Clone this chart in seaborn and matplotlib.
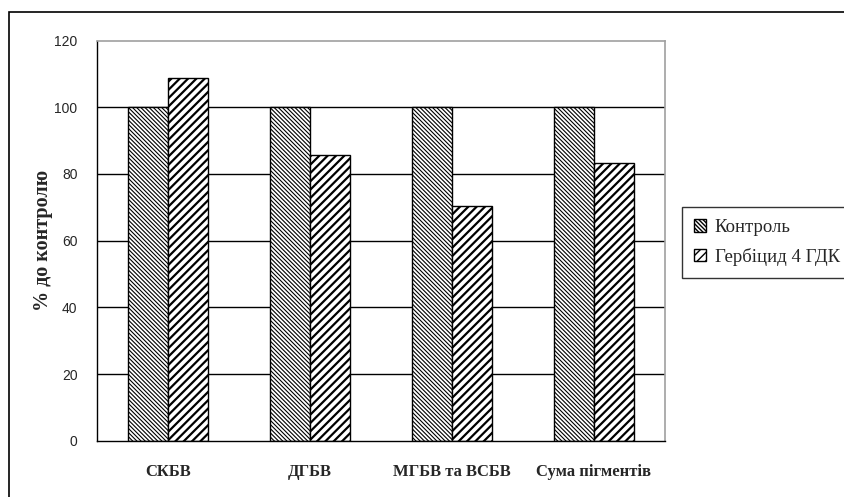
import matplotlib
matplotlib.use("Agg")
import matplotlib.pyplot as plt
import matplotlib.patches as mpatches
import seaborn as sns
import pandas as pd

categories = ["СКБВ", "ДГБВ", "МГБВ та ВСБВ", "Сума пігментів"]
series_names = ["Контроль", "Гербіцид 4 ГДК"]
control = [100, 100, 100, 100]
herbicide = [108.8, 85.7, 70.4, 83.4]
y_ticks = [0, 20, 40, 60, 80, 100, 120]
y_label = "% до контролю"

df = pd.DataFrame({
    "cat": categories * 2,
    "series": [series_names[0]] * len(categories) + [series_names[1]] * len(categories),
    "value": control + herbicide,
})

sns.set_style("white")
plt.rcParams["font.family"] = ["Liberation Serif", "DejaVu Serif"]

W, H = 844, 497
fig = plt.figure(figsize=(W / 100, H / 100), dpi=100)
ax = fig.add_axes([97 / W, 1 - 440.7 / H, (665 - 97) / W, (440.7 - 40.5) / H])

sns.barplot(data=df, x="cat", y="value", hue="series", order=categories,
            hue_order=series_names, palette=["white", "white"], width=0.563,
            gap=0, edgecolor="black", linewidth=1.0, legend=False, ax=ax,
            saturation=1)

hatches = ["\\" * 8, "////"]
hlw = [0.8, 1.6]
for cont, h, lw in zip(ax.containers, hatches, hlw):
    for p in cont:
        p.set_hatch(h)
        p.set_edgecolor("black")
        try:
            p.set_hatch_linewidth(lw)
        except Exception:
            plt.rcParams["hatch.linewidth"] = lw

ax.set_ylim(0, 120)
ax.set_xlim(-0.5, len(categories) - 0.5)
ax.set_yticks(y_ticks)
ax.set_yticklabels([str(v) for v in y_ticks], family="Liberation Sans", fontsize=10)
ax.set_xticks(range(len(categories)))
ax.set_xticklabels(categories, fontsize=12, fontweight="bold")
ax.tick_params(axis="x", length=0, pad=17)
ax.tick_params(axis="y", direction="out", length=5, width=1, color="black", pad=9)
ax.set_xticks([i + 0.5 for i in range(len(categories) - 1)] + [-0.5, len(categories) - 0.5], minor=True)
ax.tick_params(axis="x", which="minor", direction="out", length=5, width=1, color="black")
ax.set_xlabel("")
ax.set_ylabel(y_label, fontsize=14.5, fontweight="bold", labelpad=1)

ax.yaxis.grid(True, color="black", linewidth=1)
ax.set_axisbelow(True)
gl = ax.yaxis.get_gridlines()
gl[-1].set_visible(False)
gl[0].set_visible(False)

for s in ["top", "right"]:
    ax.spines[s].set_color("#a0a0a0")
    ax.spines[s].set_linewidth(1.2)
for s in ["left", "bottom"]:
    ax.spines[s].set_color("black")
    ax.spines[s].set_linewidth(1.0)

leg = fig.legend(handles=[ax.containers[0], ax.containers[1]], labels=series_names,
                 loc="upper left", bbox_to_anchor=(682 / W, 1 - 207 / H),
                 frameon=True, fancybox=False, shadow=False, fontsize=13.5,
                 handlelength=0.65, handleheight=0.65, handletextpad=0.45,
                 labelspacing=0.62, borderpad=0.65, borderaxespad=0)
leg.get_frame().set_edgecolor("black")
leg.get_frame().set_linewidth(1.0)

fig.patches.append(mpatches.Rectangle((9 / W, -0.1), 2.0, 1 - 12 / H + 0.1,
                                      transform=fig.transFigure, fill=False,
                                      edgecolor="black", linewidth=1.2))

fig.savefig("out.png", dpi=100)
